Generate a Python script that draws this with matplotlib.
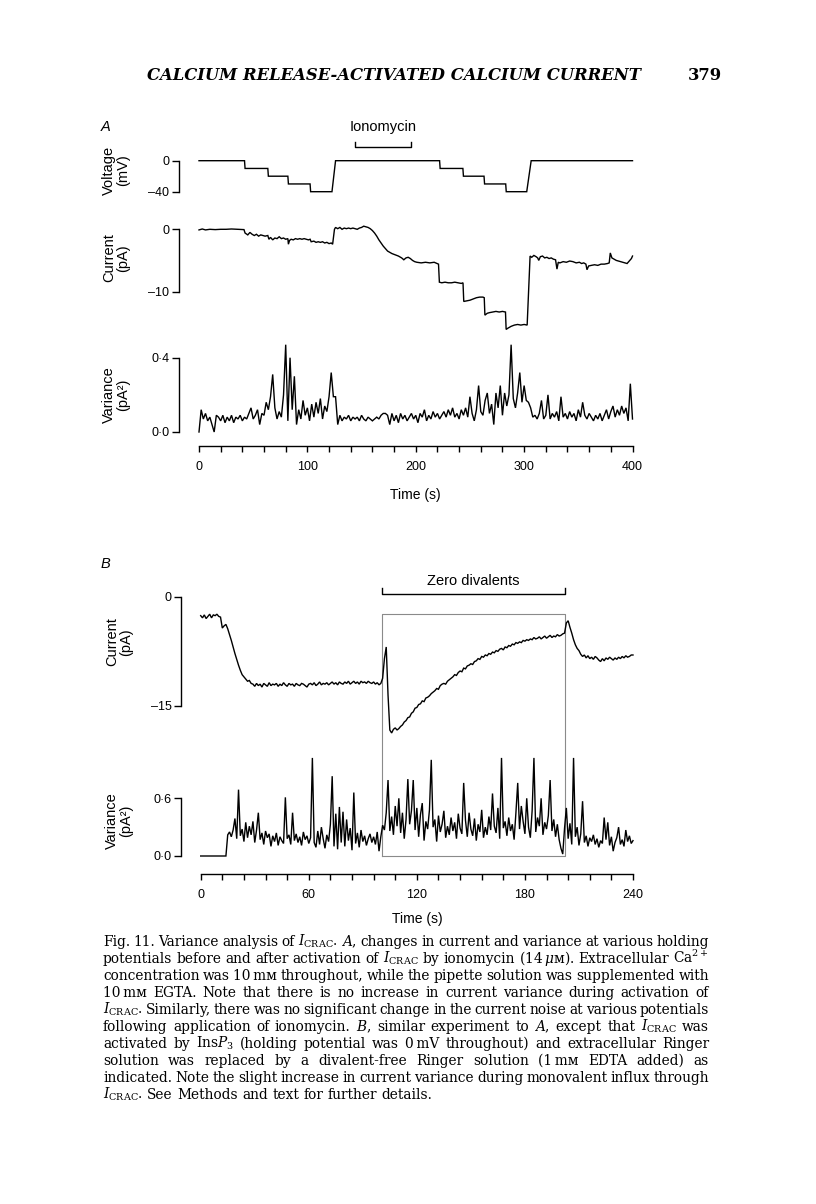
import numpy as np
import matplotlib
matplotlib.use("Agg")
import matplotlib.pyplot as plt
import matplotlib.transforms as mtrans
from matplotlib.lines import Line2D

# ---- data ----

# A: holding voltage (mV)
va_t = [0, 42, 42.5, 63.5, 64, 82, 82.5, 102.5, 103, 122.7, 126, 222, 222.5, 243.5, 244, 263, 263.5, 283, 283.5, 302.4, 306.5, 400]
va_mv = [0, 0, -10, -10, -20, -20, -30, -30, -40, -40, 0, 0, -10, -10, -20, -20, -30, -30, -40, -40, 0, 0]

# A: current (pA)
ia_t = [0, 3, 6, 10, 15, 20, 25, 30, 35, 41.5,
        42.5, 45, 47, 49, 51, 53, 55, 57, 59, 61, 63.5,
        64.5, 66, 68, 70, 72, 74, 76, 78, 80, 82,
        82.5, 83.5, 85, 87, 89, 91, 93, 95, 97, 99, 101, 102.5,
        103.5, 106, 108, 110, 112, 114, 116, 118, 120, 122, 123.3,
        125, 126, 128, 130, 132, 134, 136, 138, 140, 142, 144, 146, 148, 150, 152, 154, 156, 158, 160,
        162, 164, 166, 168, 170, 172, 174, 176, 178, 181, 184, 187, 189, 191, 193, 195, 197, 199, 201, 205, 209, 213, 217, 221,
        221.8, 224, 227, 230, 233, 236, 239, 242, 243.6,
        244.3, 247, 250, 253, 256, 259, 262, 263.2,
        263.8, 266, 268, 271, 274, 277, 280, 282.8,
        283.4, 285, 288, 291, 294, 297, 300, 302.8,
        305.5, 307, 309, 311, 312.5, 313.5, 315, 317, 319, 321, 323, 325, 327, 329, 330.3, 331.5, 333, 336, 339, 342,
        345, 348, 351, 353, 355, 357, 358, 359.5, 362, 365, 368, 371, 374, 377, 378.5, 379.5, 381, 383, 385, 387,
        389, 391, 393, 395, 397, 399, 400]
ia_pa = [-0.1, 0.05, -0.1, 0.0, -0.05, 0.0, 0.0, 0.05, 0.0, -0.05,
         -0.6, -0.9, -0.5, -0.8, -1.0, -0.8, -1.1, -0.9, -1.0, -1.1, -1.0,
         -1.6, -1.3, -1.7, -1.4, -1.5, -1.2, -1.5, -1.4, -1.6, -1.5,
         -2.4, -1.8, -1.6, -1.7, -1.5, -1.6, -1.5, -1.6, -1.5, -1.6, -1.7, -1.6,
         -2.0, -1.9, -2.1, -2.0, -2.1, -2.0, -2.2, -2.1, -2.3, -2.2, -2.4,
         0.0, 0.3, 0.1, 0.3, 0.0, 0.2, 0.1, 0.2, 0.1, 0.2, 0.1, 0.0, 0.2, 0.3, 0.5, 0.4, 0.3, 0.1, -0.2,
         -0.6, -1.1, -1.7, -2.2, -2.7, -3.1, -3.5, -3.7, -3.9, -4.1, -4.3, -4.6, -4.9, -4.6, -4.5, -4.7, -5.0, -5.2, -5.3, -5.4, -5.3, -5.4, -5.3, -5.6,
         -8.5, -8.6, -8.5, -8.6, -8.6, -8.5, -8.6, -8.7, -8.6,
         -11.6, -11.5, -11.4, -11.2, -11.0, -10.9, -10.9, -11.0,
         -13.8, -13.5, -13.4, -13.3, -13.2, -13.3, -13.2, -13.3,
         -16.1, -15.9, -15.6, -15.4, -15.3, -15.4, -15.3, -15.4,
         -4.3, -4.5, -4.2, -4.4, -4.6, -5.0, -4.4, -4.3, -4.6, -4.5, -4.7, -4.6, -4.8, -4.9, -6.4, -5.3, -5.4, -5.2, -5.3, -5.1,
         -5.2, -5.4, -5.3, -5.5, -5.4, -5.6, -6.5, -5.9, -5.8, -5.7, -5.8, -5.6, -5.6, -5.5, -5.4, -3.8, -4.6, -4.8, -5.0, -5.1,
         -5.2, -5.3, -5.4, -5.5, -5.1, -4.7, -4.3]

# A: variance (pA^2), one value every 2 s from 0 to 400 s
vara = [0.00, 0.12, 0.07, 0.10, 0.06, 0.08, 0.04, 0.00, 0.09, 0.08,
        0.06, 0.09, 0.05, 0.08, 0.06, 0.09, 0.05, 0.08, 0.07, 0.09,
        0.06, 0.08, 0.07, 0.10, 0.13, 0.07, 0.09, 0.12, 0.04, 0.10,
        0.09, 0.16, 0.12, 0.19, 0.31, 0.13, 0.07, 0.11, 0.08, 0.20,
        0.47, 0.06, 0.40, 0.12, 0.30, 0.04, 0.12, 0.07, 0.17, 0.09,
        0.13, 0.06, 0.15, 0.08, 0.16, 0.10, 0.18, 0.07, 0.14, 0.11,
        0.19, 0.32, 0.19, 0.19, 0.04, 0.09, 0.06, 0.08, 0.07, 0.09,
        0.06, 0.08, 0.07, 0.08, 0.06, 0.09, 0.07, 0.06, 0.08, 0.07,
        0.06, 0.07, 0.08, 0.07, 0.09, 0.10, 0.10, 0.09, 0.04, 0.10,
        0.06, 0.09, 0.05, 0.10, 0.07, 0.09, 0.06, 0.08, 0.10, 0.07,
        0.09, 0.05, 0.10, 0.08, 0.12, 0.06, 0.09, 0.07, 0.11, 0.08,
        0.10, 0.07, 0.09, 0.11, 0.08, 0.12, 0.09, 0.13, 0.08, 0.10,
        0.07, 0.12, 0.09, 0.13, 0.08, 0.19, 0.10, 0.06, 0.12, 0.25,
        0.11, 0.09, 0.17, 0.21, 0.10, 0.15, 0.04, 0.21, 0.13, 0.25,
        0.09, 0.21, 0.14, 0.20, 0.47, 0.18, 0.13, 0.21, 0.32, 0.16,
        0.25, 0.17, 0.16, 0.13, 0.08, 0.09, 0.07, 0.10, 0.17, 0.07,
        0.09, 0.20, 0.07, 0.10, 0.08, 0.11, 0.06, 0.19, 0.08, 0.10,
        0.07, 0.11, 0.08, 0.10, 0.06, 0.12, 0.08, 0.16, 0.09, 0.07,
        0.10, 0.08, 0.06, 0.09, 0.07, 0.10, 0.06, 0.09, 0.12, 0.07,
        0.11, 0.14, 0.08, 0.12, 0.09, 0.14, 0.10, 0.13, 0.06, 0.26,
        0.07]
ta = np.arange(0, 401, 2)

# B: current (pA) and variance (pA^2), one value per second from 0 to 240 s
ib = [-2.6, -2.9, -2.5, -3.0, -2.7, -2.4, -2.9, -2.5, -2.6, -2.4,
      -2.7, -2.8, -4.3, -4.0, -3.8, -4.4, -5.2, -6.0, -6.9, -7.8,
      -8.6, -9.4, -10.1, -10.7, -11.0, -11.3, -11.6, -11.5, -11.9, -12.0,
      -12.3, -11.9, -12.2, -12.0, -12.4, -11.9, -12.1, -12.3, -11.8, -12.2,
      -12.0, -12.1, -11.9, -12.3, -12.0, -12.2, -11.8, -12.1, -12.3, -11.9,
      -12.1, -12.0, -12.3, -11.9, -12.1, -12.2, -11.9, -12.0, -12.2, -12.4,
      -12.0, -11.9, -12.1, -11.8, -12.2, -12.0, -11.7, -12.1, -11.9, -12.0,
      -11.8, -12.1, -11.9, -11.7, -12.0, -11.8, -12.1, -11.7, -11.9, -12.0,
      -11.7, -11.9, -11.6, -12.0, -11.8, -11.6, -11.9, -11.7, -12.0, -11.6,
      -11.8, -11.7, -11.9, -11.6, -11.8, -11.9, -11.7, -12.0, -11.8, -12.1,
      -11.9, -11.2, -8.5, -6.9, -13.5, -18.3, -18.7, -18.2, -18.0, -18.3,
      -18.1, -17.8, -17.6, -17.2, -17.0, -16.6, -16.5, -16.0, -15.8, -15.3,
      -15.2, -14.8, -14.7, -14.3, -14.4, -13.9, -13.8, -13.6, -13.3, -13.1,
      -12.9, -12.6, -12.7, -12.2, -12.0, -11.9, -12.0, -11.6, -11.4, -11.2,
      -11.0, -10.7, -10.8, -10.4, -10.2, -10.3, -9.8, -9.9, -9.5, -9.4,
      -9.2, -9.3, -8.9, -8.8, -8.5, -8.6, -8.2, -8.3, -8.0, -8.1,
      -7.8, -7.9, -7.6, -7.7, -7.4, -7.5, -7.2, -7.1, -7.3, -6.9,
      -7.0, -6.7, -6.8, -6.5, -6.6, -6.3, -6.4, -6.2, -6.3, -6.0,
      -6.1, -5.9, -6.0, -5.8, -5.9, -5.6, -5.8, -5.7, -5.5, -5.8,
      -5.6, -5.4, -5.7, -5.5, -5.3, -5.6, -5.4, -5.5, -5.2, -5.4,
      -5.3, -5.1, -5.0, -3.6, -3.3, -4.2, -5.0, -5.9, -6.6, -7.1,
      -7.4, -7.9, -8.2, -8.0, -8.4, -8.1, -8.5, -8.3, -8.6, -8.2,
      -8.4, -8.7, -8.9, -8.5, -8.8, -8.4, -8.6, -8.3, -8.5, -8.7,
      -8.4, -8.6, -8.3, -8.5, -8.2, -8.4, -8.1, -8.3, -8.2, -8.0,
      -8.0]
varb = [0, 0, 0, 0, 0, 0, 0, 0, 0, 0,
        0, 0, 0, 0, 0, 0.22, 0.25, 0.20, 0.27, 0.39,
        0.18, 0.69, 0.21, 0.28, 0.15, 0.35, 0.19, 0.31, 0.22, 0.36,
        0.14, 0.27, 0.45, 0.17, 0.24, 0.12, 0.26, 0.19, 0.23, 0.10,
        0.21, 0.15, 0.24, 0.11, 0.20, 0.16, 0.13, 0.61, 0.18, 0.22,
        0.12, 0.45, 0.16, 0.23, 0.14, 0.20, 0.11, 0.25, 0.17, 0.21,
        0.13, 0.19, 1.02, 0.14, 0.09, 0.26, 0.12, 0.30, 0.18, 0.08,
        0.22, 0.15, 0.33, 0.83, 0.10, 0.44, 0.07, 0.51, 0.14, 0.46,
        0.10, 0.38, 0.16, 0.29, 0.06, 0.66, 0.13, 0.24, 0.09, 0.27,
        0.15, 0.21, 0.11, 0.18, 0.23, 0.14, 0.20, 0.12, 0.25, 0.05,
        0.20, 0.32, 0.27, 0.45, 0.79, 0.26, 0.41, 0.22, 0.52, 0.31,
        0.60, 0.24, 0.45, 0.18, 0.38, 0.80, 0.33, 0.47, 0.79, 0.27,
        0.50, 0.20, 0.43, 0.55, 0.16, 0.36, 0.28, 0.48, 1.00, 0.30,
        0.38, 0.15, 0.42, 0.25, 0.33, 0.47, 0.19, 0.31, 0.22, 0.40,
        0.26, 0.35, 0.18, 0.44, 0.29, 0.23, 0.76, 0.37, 0.20, 0.45,
        0.28, 0.21, 0.39, 0.16, 0.33, 0.25, 0.48, 0.19, 0.30, 0.22,
        0.41, 0.27, 0.65, 0.31, 0.24, 0.50, 0.18, 1.02, 0.29, 0.36,
        0.21, 0.40, 0.26, 0.33, 0.17, 0.45, 0.76, 0.28, 0.52, 0.36,
        0.23, 0.60, 0.30, 0.19, 0.47, 1.02, 0.25, 0.40, 0.31, 0.60,
        0.22, 0.35, 0.28, 0.42, 0.79, 0.26, 0.38, 0.20, 0.33, 0.17,
        0.08, 0.02, 0.29, 0.50, 0.18, 0.34, 0.12, 1.02, 0.20, 0.30,
        0.11, 0.23, 0.57, 0.14, 0.21, 0.10, 0.19, 0.15, 0.22, 0.12,
        0.18, 0.09, 0.16, 0.13, 0.40, 0.17, 0.35, 0.11, 0.20, 0.05,
        0.14, 0.19, 0.30, 0.12, 0.17, 0.10, 0.27, 0.15, 0.21, 0.13,
        0.16]
tb = np.arange(0, 241, 1)

iono_on, iono_off = 144, 196        # ionomycin application (s)
zero_on, zero_off = 100.7, 202.3    # zero-divalent solution (s)

caption = [
    "Fig. 11. Variance analysis of $I_{\\mathrm{CRAC}}$. $A$, changes in current and variance at various holding",
    "potentials before and after activation of $I_{\\mathrm{CRAC}}$ by ionomycin (14\u2009$\\mu$ᴍ). Extracellular Ca$^{2+}$",
    "concentration was 10\u2009mᴍ throughout, while the pipette solution was supplemented with",
    "10\u2009mᴍ EGTA. Note that there is no increase in current variance during activation of",
    "$I_{\\mathrm{CRAC}}$. Similarly, there was no significant change in the current noise at various potentials",
    "following application of ionomycin. $B$, similar experiment to $A$, except that $I_{\\mathrm{CRAC}}$ was",
    "activated by Ins$P_3$ (holding potential was 0\u2009mV throughout) and extracellular Ringer",
    "solution was replaced by a divalent-free Ringer solution (1\u2009mᴍ EDTA added) as",
    "indicated. Note the slight increase in current variance during monovalent influx through",
    "$I_{\\mathrm{CRAC}}$. See Methods and text for further details.",
]

# ---- page layout (pixels, y from top) ----
W, H, DPI = 816, 1204, 100
plt.rcParams["mathtext.fontset"] = "dejavuserif"
SANS = ["Liberation Sans", "DejaVu Sans"]
SERIF = ["DejaVu Serif", "DejaVu Sans"]
LW = 1.0

fig = plt.figure(figsize=(W / DPI, H / DPI), dpi=DPI)
fig.patch.set_facecolor("white")


def px_axes(xp, xv, yp, yv, xlim, ylim):
    """axes whose data values xv/yv land on pixel positions xp/yp"""
    sx = (xp[1] - xp[0]) / (xv[1] - xv[0])
    sy = (yp[1] - yp[0]) / (yv[1] - yv[0])
    left = xp[0] + (xlim[0] - xv[0]) * sx
    right = xp[0] + (xlim[1] - xv[0]) * sx
    top = yp[0] + (ylim[1] - yv[0]) * sy
    bottom = yp[0] + (ylim[0] - yv[0]) * sy
    ax = fig.add_axes([left / W, 1 - bottom / H, (right - left) / W, (bottom - top) / H])
    ax.set_xlim(xlim)
    ax.set_ylim(ylim)
    ax.patch.set_alpha(0)
    for s in ax.spines.values():
        s.set_visible(False)
    ax.set_xticks([])
    ax.set_yticks([])
    return ax


def left_scale(ax, ticks, labels, off_px):
    sp = ax.spines["left"]
    sp.set_visible(True)
    sp.set_linewidth(LW)
    sp.set_position(("outward", off_px * 72 / DPI))
    sp.set_bounds(min(ticks), max(ticks))
    ax.set_yticks(ticks)
    ax.set_yticklabels(labels, family=SANS, fontsize=9)
    ax.tick_params(axis="y", direction="out", length=5, width=LW, pad=2)


def time_scale(ax, major, minor, off_px):
    sp = ax.spines["bottom"]
    sp.set_visible(True)
    sp.set_linewidth(LW)
    sp.set_position(("outward", off_px * 72 / DPI))
    sp.set_bounds(major[0], major[-1])
    ax.set_xticks(major)
    ax.set_xticklabels([str(m) for m in major], family=SANS, fontsize=9)
    ax.set_xticks(minor, minor=True)
    ax.tick_params(axis="x", which="both", direction="out", length=4.5, width=LW, pad=6)


def side_label(x, y, s):
    fig.text(x / W, 1 - y / H, s, rotation=90, ha="center", va="center",
             family=SANS, fontsize=10.5, linespacing=1.0, multialignment="center")


def trace(ax, x, y):
    ax.plot(x, y, color="black", lw=1.0, clip_on=False, solid_joinstyle="miter")


def bracket(ax, t0, t1, y_line, y_tip):
    tr = mtrans.blended_transform_factory(ax.transData, fig.transFigure)
    ax.add_line(Line2D([t0, t0, t1, t1], [1 - y_tip / H, 1 - y_line / H, 1 - y_line / H, 1 - y_tip / H],
                       transform=tr, color="black", lw=LW, clip_on=False))


# ---------------- panel A ----------------
xa = ((199, 632.5), (0, 400))
ax_v = px_axes(xa[0], xa[1], (160.7, 191.7), (0, -40), (0, 400), (-40, 0))
trace(ax_v, va_t, va_mv)
left_scale(ax_v, [-40, 0], ["\u201340", "0"], 20)

ax_i = px_axes(xa[0], xa[1], (229.3, 291.5), (0, -10), (0, 400), (-10, 0))
trace(ax_i, ia_t, ia_pa)
left_scale(ax_i, [-10, 0], ["\u201310", "0"], 20)

ax_s = px_axes(xa[0], xa[1], (432, 357.7), (0, 0.4), (0, 400), (0, 0.4))
trace(ax_s, ta, vara)
left_scale(ax_s, [0, 0.4], ["0\u00b70", "0\u00b74"], 20)
time_scale(ax_s, [0, 100, 200, 300, 400], np.arange(0, 401, 20), 14)

fig.text(101 / W, 1 - 127 / H, "A", family=SANS, style="italic", fontsize=10.5, ha="left", va="center")
fig.text(383 / W, 1 - 127 / H, "Ionomycin", family=SANS, fontsize=10.5, ha="center", va="center")
bracket(ax_v, iono_on, iono_off, 147, 141.5)
side_label(116, 170, "Voltage\n(mV)")
side_label(116, 258, "Current\n(pA)")
side_label(116, 395, "Variance\n(pA\u00b2)")
fig.text(415 / W, 1 - 495 / H, "Time (s)", family=SANS, fontsize=10, ha="center", va="center")

# ---------------- panel B ----------------
xb = ((200.7, 633), (0, 240))
ax_bi = px_axes(xb[0], xb[1], (596.7, 706), (0, -15), (0, 240), (-15, 0))
trace(ax_bi, tb, ib)
left_scale(ax_bi, [-15, 0], ["\u201315", "0"], 19.5)

ax_bs = px_axes(xb[0], xb[1], (856, 798.3), (0, 0.6), (0, 240), (0, 0.6))
trace(ax_bs, tb, varb)
left_scale(ax_bs, [0, 0.6], ["0\u00b70", "0\u00b76"], 19.5)
time_scale(ax_bs, [0, 60, 120, 180, 240], np.arange(0, 241, 12), 18)

fig.text(101 / W, 1 - 564 / H, "B", family=SANS, style="italic", fontsize=10.5, ha="left", va="center")
fig.text(473 / W, 1 - 581 / H, "Zero divalents", family=SANS, fontsize=10.5, ha="center", va="center")
bracket(ax_bi, zero_on, zero_off, 594, 588)
side_label(119, 642, "Current\n(pA)")
side_label(119, 821, "Variance\n(pA\u00b2)")
fig.text(417 / W, 1 - 919 / H, "Time (s)", family=SANS, fontsize=10, ha="center", va="center")

# grey box marking the zero-divalent period across both traces
inv = fig.transFigure.inverted()
p_tl = inv.transform(ax_bi.transData.transform((zero_on, -2.4)))
p_tr = inv.transform(ax_bi.transData.transform((zero_off, -2.4)))
p_bl = inv.transform(ax_bs.transData.transform((zero_on, 0)))
p_br = inv.transform(ax_bs.transData.transform((zero_off, 0)))
fig.add_artist(Line2D([p_bl[0], p_tl[0], p_tr[0], p_br[0], p_bl[0]],
                      [p_bl[1], p_tl[1], p_tr[1], p_br[1], p_bl[1]],
                      transform=fig.transFigure, color="#8a8a8a", lw=0.8, zorder=0))

# ---------------- running head and caption ----------------
renderer = fig.canvas.get_renderer()

head = fig.text(394 / W, 1 - 76 / H, "CALCIUM RELEASE-ACTIVATED CALCIUM CURRENT", family=SERIF,
                weight="bold", style="italic", fontsize=12, ha="center", va="center")
head.set_fontsize(12 * 494 / head.get_window_extent(renderer).width)
fig.text(722 / W, 1 - 76 / H, "379", family=SERIF, weight="bold", fontsize=head.get_fontsize(),
         ha="right", va="center")

cap_x0, cap_x1 = 103, 709
cap_y0, cap_dy = 946, 17
fs = 10
rows = []
for i, line in enumerate(caption):
    words = [fig.text(0, 1 - (cap_y0 + i * cap_dy) / H, w, family=SERIF, fontsize=fs, va="baseline")
             for w in line.split(" ")]
    rows.append(words)

space = fig.text(0, 0, "a a", family=SERIF, fontsize=fs)
nosp = fig.text(0, 0, "aa", family=SERIF, fontsize=fs)
sp_w = space.get_window_extent(renderer).width - nosp.get_window_extent(renderer).width
space.remove()
nosp.remove()

# fit the font so the tightest line still keeps 60% of a normal space
natural = []
for words in rows[:-1]:
    ws = [t.get_window_extent(renderer).width for t in words]
    natural.append(sum(ws) + 0.6 * sp_w * (len(ws) - 1))
scale = (cap_x1 - cap_x0) / max(natural)
fs = fs * scale
sp_w = sp_w * scale

for i, words in enumerate(rows):
    for t in words:
        t.set_fontsize(fs)
    ws = [t.get_window_extent(renderer).width for t in words]
    if i == len(rows) - 1:
        gap = sp_w
    else:
        gap = (cap_x1 - cap_x0 - sum(ws)) / (len(ws) - 1)
    x = cap_x0
    for t, w in zip(words, ws):
        t.set_x(x / W)
        x += w + gap

fig.savefig("out.png", dpi=DPI, facecolor="white")
